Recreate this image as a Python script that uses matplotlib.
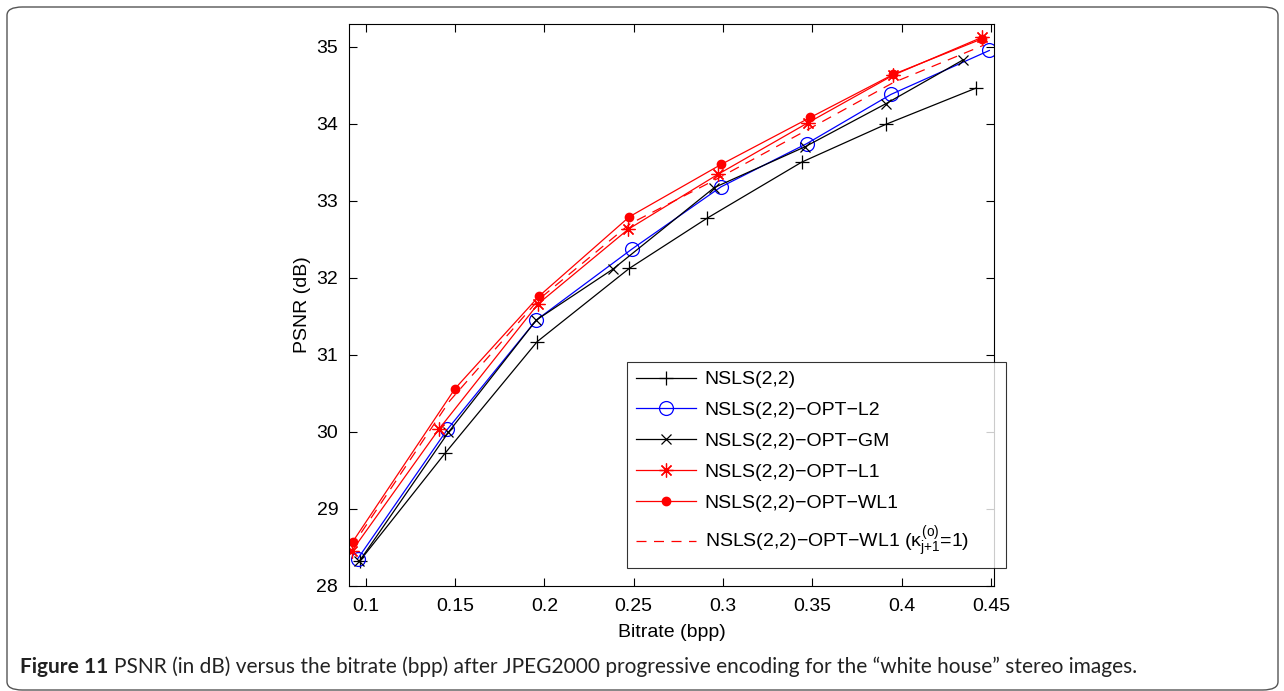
import matplotlib
matplotlib.use("Agg")
import matplotlib.pyplot as plt
from matplotlib.patches import FancyBboxPatch

plt.rcParams["font.family"] = ["Liberation Sans", "DejaVu Sans"]
plt.rcParams["mathtext.fontset"] = "custom"
plt.rcParams["mathtext.rm"] = "Liberation Sans"
plt.rcParams["mathtext.it"] = "Liberation Sans"

# =========================
# 数据
# =========================
x_nsls = [0.0966, 0.1444, 0.1960, 0.2475, 0.2909, 0.3440, 0.3910, 0.4414]
y_nsls = [28.32, 29.72, 31.17, 32.12, 32.77, 33.50, 33.99, 34.46]

x_l2 = [0.0955, 0.1457, 0.1955, 0.2489, 0.2989, 0.3468, 0.3940, 0.4490]
y_l2 = [28.35, 30.03, 31.45, 32.37, 33.18, 33.74, 34.38, 34.95]

x_gm = [0.0965, 0.1462, 0.1955, 0.2383, 0.2951, 0.3459, 0.3912, 0.4345]
y_gm = [28.32, 29.99, 31.45, 32.11, 33.17, 33.70, 34.26, 34.83]

x_l1 = [0.0922, 0.1412, 0.1965, 0.2470, 0.2970, 0.3474, 0.3953, 0.4448]
y_l1 = [28.45, 30.04, 31.66, 32.63, 33.34, 34.01, 34.63, 35.12]

x_wl1 = [0.0927, 0.1500, 0.1970, 0.2475, 0.2989, 0.3488, 0.3953, 0.4448]
y_wl1 = [28.57, 30.56, 31.76, 32.79, 33.47, 34.08, 34.64, 35.10]

x_wl1k = [0.0920, 0.1470, 0.1970, 0.2480, 0.2980, 0.3480, 0.3950, 0.4460]
y_wl1k = [28.50, 30.40, 31.72, 32.70, 33.30, 33.93, 34.53, 35.02]

labels = [
    "NSLS(2,2)",
    "NSLS(2,2)\u2212OPT\u2212L2",
    "NSLS(2,2)\u2212OPT\u2212GM",
    "NSLS(2,2)\u2212OPT\u2212L1",
    "NSLS(2,2)\u2212OPT\u2212WL1",
    "NSLS(2,2)\u2212OPT\u2212WL1 ($\\kappa^{(o)}_{j{+}1}$=1)",
]

xticks = [0.1, 0.15, 0.2, 0.25, 0.3, 0.35, 0.4, 0.45]
xticklabels = ["0.1", "0.15", "0.2", "0.25", "0.3", "0.35", "0.4", "0.45"]
yticks = [28, 29, 30, 31, 32, 33, 34, 35]

# =========================
# 画图
# =========================
W, H = 1284, 691
fig = plt.figure(figsize=(W / 100, H / 100), dpi=100)

# outer rounded frame
frame = FancyBboxPatch((7 / W, 1 - 690 / H), 1271 / W, 683 / H,
                       boxstyle="round,pad=0,rounding_size=0.012",
                       transform=fig.transFigure, facecolor="none",
                       edgecolor="#555555", linewidth=1.0)
fig.patches.append(frame)

ax = fig.add_axes([349.3 / W, 1 - 585.7 / H, 645 / W, 561.4 / H])

lw = 0.9
ax.plot(x_nsls, y_nsls, color="black", lw=lw, marker="+", ms=10, mew=0.9, label=labels[0])
ax.plot(x_l2, y_l2, color="blue", lw=lw, marker="o", ms=10, mfc="none", mew=0.9, label=labels[1])
ax.plot(x_gm, y_gm, color="black", lw=lw, marker="x", ms=7, mew=0.9, label=labels[2])
ax.plot(x_l1, y_l1, color="red", lw=lw, marker=(8, 2, 0), ms=10, mew=0.9, label=labels[3])
ax.plot(x_wl1, y_wl1, color="red", lw=lw, marker="o", ms=6, label=labels[4])
ax.plot(x_wl1k, y_wl1k, color="red", lw=lw, ls=(0, (8, 6)), label=labels[5])

ax.set_xlim(0.0908, 0.4518)
ax.set_ylim(28, 35.29)
ax.set_xticks(xticks)
ax.set_xticklabels(xticklabels)
ax.set_yticks(yticks)
ax.tick_params(direction="in", top=True, right=True, labelsize=14, length=6, width=0.8)
ax.tick_params(axis="x", pad=9)
ax.tick_params(axis="y", pad=8)
for s in ax.spines.values():
    s.set_linewidth(0.8)

ax.set_xlabel("Bitrate (bpp)", fontsize=14, labelpad=6)
ax.set_ylabel("PSNR (dB)", fontsize=14, labelpad=4)

leg = ax.legend(loc="upper left",
                bbox_to_anchor=(627 / W, 1 - 568 / H, 379 / W, 206 / H),
                bbox_transform=fig.transFigure, borderaxespad=0, mode="expand",
                fancybox=False, frameon=True, fontsize=14,
                handlelength=3.1, handletextpad=0.45, borderpad=0.45,
                labelspacing=0.68)
leg.get_frame().set_edgecolor("black")
leg.get_frame().set_linewidth(0.8)

# caption
cap_y = 1 - 667 / H
t1 = fig.text(20 / W, cap_y, "Figure 11", fontsize=15, fontweight="bold",
              family="Lato", va="center", color="#222222")
fig.canvas.draw()
bb = t1.get_window_extent()
fig.text((bb.x1 + 6) / W, cap_y,
         "PSNR (in dB) versus the bitrate (bpp) after JPEG2000 progressive encoding "
         "for the \u201cwhite house\u201d stereo images.",
         fontsize=15, family="Lato", va="center", color="#222222")

plt.savefig("out.png", dpi=100)
plt.close()
